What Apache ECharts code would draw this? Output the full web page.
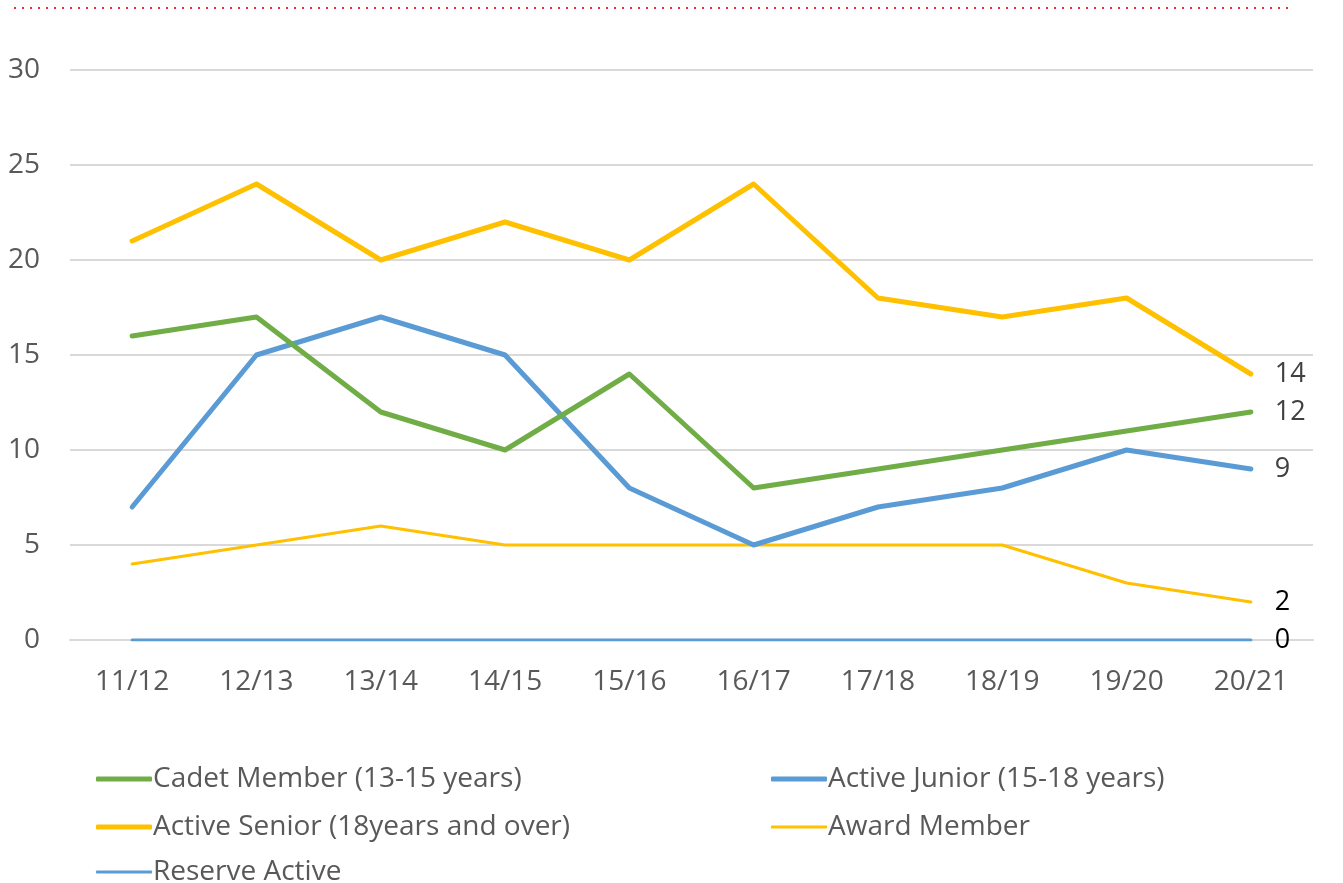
<!DOCTYPE html>
<html><head><meta charset="utf-8">
<script src="https://cdn.jsdelivr.net/npm/echarts@6/dist/echarts.min.js"></script>
<style>html,body{margin:0;padding:0;background:#fff}#c{width:1343px;height:883px}</style>
</head><body><div id="c"></div>
<script>
const categories = ['11/12','12/13','13/14','14/15','15/16','16/17','17/18','18/19','19/20','20/21'];
const cadet = [16,17,12,10,14,8,9,10,11,12];
const junior = [7,15,17,15,8,5,7,8,10,9];
const senior = [21,24,20,22,20,24,18,17,18,14];
const award = [4,5,6,5,5,5,5,5,3,2];
const reserve = [0,0,0,0,0,0,0,0,0,0];
const names = ['Cadet Member (13-15 years)','Active Junior (15-18 years)','Active Senior (18years and over)','Award Member','Reserve Active'];

const FONT = 'Open Sans';
const FS = 28;
function mk(name, data, color, width, labelColor){
  return {
    name, type:'line', data, symbol:'none', showSymbol:false,
    lineStyle:{color, width, cap:'round', join:'round'},
    itemStyle:{color},
    endLabel:{show:true, distance:24, fontSize:27, fontFamily:FONT, color:labelColor,
      formatter: p => String(p.value)},
    z: 2
  };
}
function lg(name, left, top, h){
  return {left, top, orient:'horizontal', icon:'roundRect', itemWidth:56, itemHeight:h, itemGap:0,
    data:[name], textStyle:{fontSize:FS, fontFamily:FONT, color:'#595959', padding:[0,0,0,-4]}};
}
const chart = echarts.init(document.getElementById('c'));
chart.setOption({
  animation:false,
  backgroundColor:'#fff',
  grid:{left:70, right:30, top:70, bottom:243, containLabel:false},
  xAxis:{type:'category', data:categories, boundaryGap:true,
    axisLine:{lineStyle:{color:'#d9d9d9', width:2}}, axisTick:{show:false},
    axisLabel:{fontSize:FS, fontFamily:FONT, color:'#595959', margin:28}},
  yAxis:{type:'value', min:0, max:30, interval:5,
    axisLine:{show:false}, axisTick:{show:false},
    splitLine:{lineStyle:{color:'#d9d9d9', width:2}},
    axisLabel:{fontSize:FS, fontFamily:FONT, color:'#595959', margin:30}},
  legend:[
    lg(names[0], 91, 760, 5),
    lg(names[2], 91, 808, 5),
    lg(names[4], 91, 853, 3),
    lg(names[1], 766, 760, 5),
    lg(names[3], 766, 808, 3)
  ],
  graphic:[{type:'line', shape:{x1:14, y1:8, x2:1288, y2:8},
    style:{stroke:'#e03030', lineWidth:2, lineDash:[2,6]}}],
  series:[
    mk(names[4], reserve, '#5B9BD5', 3, '#000'),
    mk(names[3], award, '#FFC000', 3, '#000'),
    mk(names[1], junior, '#5B9BD5', 5, '#404040'),
    mk(names[0], cadet, '#70AD47', 5, '#404040'),
    mk(names[2], senior, '#FFC000', 5, '#404040')
  ]
});
</script></body></html>
